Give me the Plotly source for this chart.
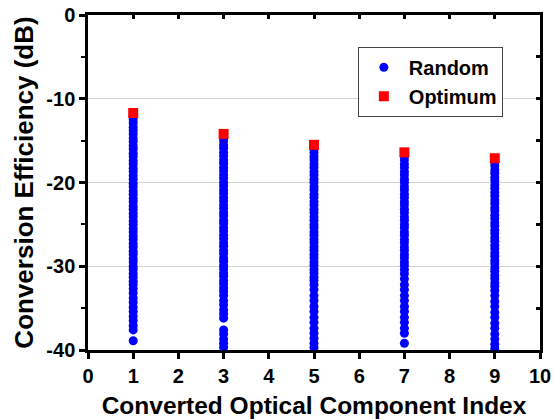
import plotly.graph_objects as go

# component indices
indices = [1, 3, 5, 7, 9]

# optimum conversion efficiency (dB) per component
optimum = [-11.7, -14.2, -15.5, -16.4, -17.1]

# random trials (dB), one list per component
rand_1 = [-12.1, -12.5, -12.9, -13.4, -13.8, -14.2, -14.7, -15.1, -15.6, -16.0,
          -16.5, -16.9, -17.4, -17.8, -18.3, -18.7, -19.2, -19.6, -20.1, -20.5,
          -21.0, -21.4, -21.9, -22.3, -22.8, -23.2, -23.7, -24.1, -24.6, -25.0,
          -25.5, -25.9, -26.4, -26.8, -27.3, -27.7, -28.2, -28.6, -29.1, -29.5,
          -30.0, -30.4, -30.9, -31.3, -31.8, -32.2, -32.7, -33.2, -33.8, -34.3,
          -34.9, -35.4, -36.0, -36.5, -37.1, -37.6, -38.9]
rand_3 = [-14.6, -15.0, -15.5, -15.9, -16.4, -16.8, -17.3, -17.7, -18.2, -18.6,
          -19.1, -19.5, -20.0, -20.4, -20.9, -21.3, -21.8, -22.2, -22.7, -23.1,
          -23.6, -24.0, -24.5, -24.9, -25.4, -25.8, -26.3, -26.7, -27.2, -27.6,
          -28.1, -28.5, -29.0, -29.4, -29.9, -30.3, -30.8, -31.2, -31.7, -32.1,
          -32.6, -33.0, -33.5, -34.1, -34.6, -35.2, -35.7, -36.2, -37.6, -38.1,
          -38.7, -39.2, -39.7]
rand_5 = [-16.0, -16.4, -16.9, -17.3, -17.8, -18.2, -18.7, -19.1, -19.6, -20.0,
          -20.5, -20.9, -21.4, -21.8, -22.3, -22.7, -23.2, -23.6, -24.1, -24.5,
          -25.0, -25.4, -25.9, -26.3, -26.8, -27.2, -27.7, -28.1, -28.6, -29.0,
          -29.5, -29.9, -30.4, -30.8, -31.3, -31.7, -32.2, -32.8, -33.5, -34.1,
          -34.8, -35.4, -36.1, -36.7, -37.4, -38.0, -38.6, -39.2, -39.7]
rand_7 = [-16.9, -17.3, -17.8, -18.2, -18.7, -19.1, -19.6, -20.0, -20.5, -20.9,
          -21.4, -21.8, -22.3, -22.7, -23.2, -23.6, -24.1, -24.5, -25.0, -25.4,
          -25.9, -26.3, -26.8, -27.2, -27.7, -28.1, -28.6, -29.0, -29.5, -29.9,
          -30.4, -30.9, -31.5, -32.2, -32.8, -33.5, -34.1, -34.8, -35.4, -36.1,
          -36.7, -37.4, -38.0, -39.2]
rand_9 = [-17.6, -18.0, -18.5, -18.9, -19.4, -19.8, -20.3, -20.7, -21.2, -21.6,
          -22.1, -22.5, -23.0, -23.4, -23.9, -24.3, -24.8, -25.2, -25.7, -26.1,
          -26.6, -27.0, -27.5, -27.9, -28.4, -28.8, -29.3, -29.7, -30.2, -30.6,
          -31.1, -31.5, -32.0, -32.4, -32.9, -33.5, -34.2, -34.8, -35.5, -36.1,
          -36.8, -37.4, -38.1, -38.7, -39.3, -39.8]

random_runs = [rand_1, rand_3, rand_5, rand_7, rand_9]

x_ticks = list(range(0, 11))
y_ticks = [-40, -30, -20, -10, 0]
y_ticktext = ["-40", "-30", "-20", "-10", "0"]

font_family = "Liberation Sans, Arial, sans-serif"

rand_x = []
rand_y = []
for idx, vals in zip(indices, random_runs):
    rand_x += [idx] * len(vals)
    rand_y += vals

fig = go.Figure()

fig.add_trace(go.Scatter(
    x=rand_x,
    y=rand_y,
    mode="markers",
    name="Random",
    marker=dict(color="#0000ff", size=9, symbol="circle", line=dict(width=0))
))

fig.add_trace(go.Scatter(
    x=indices,
    y=optimum,
    mode="markers",
    name="Optimum",
    marker=dict(color="#ff0000", size=10, symbol="square", line=dict(width=0))
))

# dummy trace so the mirrored top/right axes (inside ticks) get drawn
fig.add_trace(go.Scatter(
    x=[None], y=[None], xaxis="x2", yaxis="y2",
    showlegend=False, hoverinfo="skip"
))

fig.update_layout(
    width=554,
    height=419,
    margin=dict(l=88, r=14, t=15, b=69),
    plot_bgcolor="white",
    paper_bgcolor="white",
    font=dict(family=font_family, color="black"),
    showlegend=True,
    legend=dict(
        x=0.597, y=0.905, xanchor="left", yanchor="top",
        bgcolor="white", bordercolor="#444444", borderwidth=1,
        font=dict(size=20, family=font_family, weight="bold"),
        itemwidth=40,
        tracegroupgap=0,
    ),
    xaxis=dict(
        range=[0, 10],
        tickvals=x_ticks,
        ticks="outside", ticklen=6, tickwidth=2.5, tickcolor="black",
        showline=True, linewidth=2.5, linecolor="black",
        showgrid=False, zeroline=False, automargin=False,
        tickfont=dict(size=20, weight="bold"),
        title=dict(text="Converted Optical Component Index",
                   font=dict(size=24.5, weight="bold"), standoff=14),
    ),
    yaxis=dict(
        range=[-40, 0],
        tickvals=y_ticks, ticktext=y_ticktext,
        ticks="outside", ticklen=6, tickwidth=2.5, tickcolor="black",
        minor=dict(ticks="outside", dtick=5, ticklen=4, tickwidth=2,
                   tickcolor="black", showgrid=False),
        showline=True, linewidth=2.5, linecolor="black",
        showgrid=True, gridcolor="#d3d3d3", gridwidth=1,
        zeroline=False, automargin=False,
        tickfont=dict(size=20, weight="bold"),
        title=dict(text="Conversion Efficiency (dB)",
                   font=dict(size=26, weight="bold"), standoff=6),
    ),
    xaxis2=dict(
        overlaying="x", side="top", anchor="y2",
        range=[0, 10], dtick=1,
        ticks="inside", ticklen=4, tickwidth=2.5, tickcolor="black",
        showline=True, linewidth=2.5, linecolor="black",
        showticklabels=False, showgrid=False, zeroline=False, automargin=False,
    ),
    yaxis2=dict(
        overlaying="y", side="right", anchor="x2",
        range=[-40, 0], dtick=5,
        ticks="inside", ticklen=4, tickwidth=2.5, tickcolor="black",
        showline=True, linewidth=2.5, linecolor="black",
        showticklabels=False, showgrid=False, zeroline=False, automargin=False,
    ),
)

# remove the default page margin so the figure sits at the window corner
fig.write_html("out.html", config={"displayModeBar": False},
               post_script="document.body.style.margin='0';")
